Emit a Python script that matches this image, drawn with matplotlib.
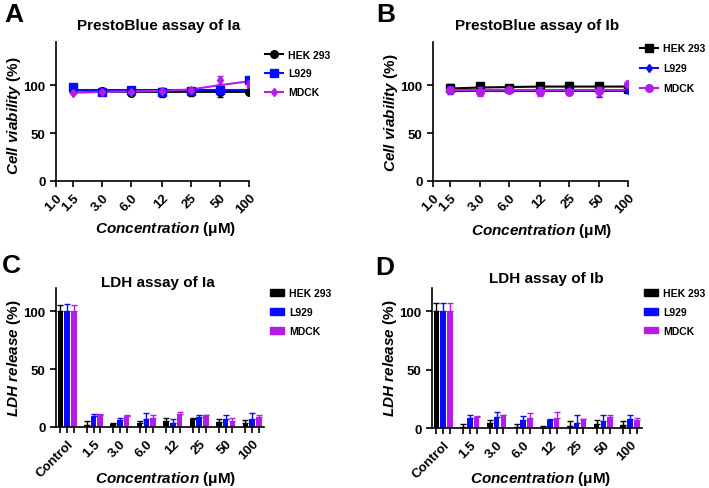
import matplotlib
matplotlib.use('Agg')
import matplotlib.pyplot as plt
from matplotlib.lines import Line2D
from matplotlib.patches import Patch
from matplotlib.ticker import NullLocator
import numpy as np

plt.rcParams['font.family'] = 'Liberation Sans'
plt.rcParams['font.weight'] = 'bold'
plt.rcParams['mathtext.fontset'] = 'custom'
plt.rcParams['mathtext.it'] = 'Liberation Sans:italic:bold'
plt.rcParams['mathtext.bf'] = 'Liberation Sans:bold'
plt.rcParams['mathtext.rm'] = 'Liberation Sans:bold'

# datos
cells = ['HEK 293', 'L929', 'MDCK']
conc = [1.5, 3.0, 6.0, 12.5, 25, 50, 100]
conc_ticks = [1.0, 1.5, 3.0, 6.0, 12.5, 25, 50, 100]
conc_labels = ['1.0', '1.5', '3.0', '6.0', '12', '25', '50', '100']
groups = ['Control', '1.5', '3.0', '6.0', '12', '25', '50', '100']

# PrestoBlue Ia
hek_a = [94.8, 93.4, 92.0, 92.4, 93.0, 92.4, 93.0]
hek_a_err = [1, 1, 2, 5, 4, 5, 1]
hek_a_fit = [94.8, 93.4, 93.0, 93.0, 93.0, 93.0, 93.0]
l929_a = [98.0, 93.0, 95.0, 93.0, 94.0, 95.0, 105.0]
l929_a_err = [2, 1, 1, 1, 2, 1, 2]
l929_a_fit = [95.0, 95.0, 95.0, 95.0, 95.0, 95.0, 95.0]
mdck_a = [92.0, 93.0, 93.0, 94.0, 95.0, 105.5, 101.0]
mdck_a_err = [1, 1, 1, 1, 2, 4, 3]
mdck_a_fit = [92.0, 93.0, 93.5, 94.0, 95.5, 100.0, 104.0]

# PrestoBlue Ib
hek_b = [96.5, 99.0, 97.5, 98.6, 99.3, 99.6, 96.0]
hek_b_err = [5, 3, 2, 3, 4, 2, 3]
hek_b_fit = [96.5, 97.5, 98.0, 98.5, 98.5, 98.5, 98.5]
l929_b = [95.0, 94.5, 95.5, 94.5, 94.5, 93.0, 94.5]
l929_b_err = [4, 1, 1, 1, 1, 5, 2]
l929_b_fit = [94.3, 94.3, 94.3, 94.3, 94.3, 94.3, 94.3]
mdck_b = [95.4, 93.3, 94.5, 93.3, 92.6, 93.5, 101.0]
mdck_b_err = [2, 5, 2, 5, 2, 5, 3]
mdck_b_fit = [94.7, 94.7, 94.7, 94.7, 94.7, 94.7, 94.7]

# LDH Ia
hek_c = [100, 1.7, 3.0, 3.5, 5.0, 7.0, 4.6, 3.5]
hek_c_err = [5, 3.5, 0.8, 2, 3, 1.2, 2, 2.5]
l929_c = [100, 9.3, 6.4, 7.0, 3.5, 9.0, 7.2, 7.2]
l929_c_err = [6, 2, 1.5, 5, 3.5, 1.2, 3.5, 5]
mdck_c = [100, 10.5, 9.6, 7.8, 11.3, 10.0, 5.2, 9.0]
mdck_c_err = [5, 0.8, 0.7, 2.2, 1.8, 0.5, 2.3, 1.5]

# LDH Ib
hek_d = [100, 1.0, 4.0, 1.0, 0.0, 1.5, 3.7, 2.9]
hek_d_err = [7, 2.4, 3, 2.5, 1.5, 4.8, 3.3, 2.8]
l929_d = [100, 9.0, 9.2, 7.0, 7.0, 4.3, 5.7, 7.5]
l929_d_err = [7, 2, 4.8, 3, 1, 6.7, 5.3, 4]
mdck_d = [100, 9.8, 11.2, 9.0, 8.3, 7.5, 9.2, 7.0]
mdck_d_err = [7, 0.6, 0.3, 4, 5.7, 0.5, 1.8, 2]

BLUE = '#0a0aff'
PURPLE = '#b21ee8'
BLACK = 'black'
W, H = 709, 489

CONC_LABEL = r'$\mathit{Concentration}$ $\mathbf{(μM)}$'


def style_axes(ax):
    for s in ['top', 'right']:
        ax.spines[s].set_visible(False)
    for s in ['left', 'bottom']:
        ax.spines[s].set_linewidth(1.2)
    ax.tick_params(which='both', direction='out', length=4, width=1.2, labelsize=9.5)
    ax.set_yticks([0, 50, 100])


def line_panel(ax, pts, errs, fits, colors, markers, sizes, order):
    for i in order:
        ax.plot(conc, fits[i], color=colors[i], lw=1.5, zorder=2 + i)
        ax.errorbar(conc, pts[i], yerr=errs[i], fmt=markers[i], color=colors[i],
                    ms=sizes[i], elinewidth=1, capsize=2, zorder=3 + i)
    ax.set_xscale('log')
    ax.set_xlim(1, 100)
    ax.set_ylim(0, 145)
    ax.xaxis.set_minor_locator(NullLocator())
    ax.set_xticks(conc_ticks)
    ax.set_xticklabels(conc_labels, rotation=45, ha='right', rotation_mode='anchor')
    style_axes(ax)
    ax.set_ylabel(r'$\mathit{Cell\ viability}$ $\mathbf{(\%)}$', fontsize=11)
    ax.set_xlabel(CONC_LABEL, fontsize=11, va='baseline')
    handles = [Line2D([], [], color=colors[i], marker=markers[i], ms=sizes[i], lw=1.5)
               for i in range(3)]
    return handles


def bar_panel(ax, pts, errs):
    x = np.arange(len(groups))
    off = 0.253
    colors = [BLACK, BLUE, PURPLE]
    for i, (v, e) in enumerate(zip(pts, errs)):
        pos = x + (i - 1) * off
        ax.bar(pos, v, width=0.21, color=colors[i], zorder=2)
        ax.errorbar(pos, v, yerr=[np.zeros(len(v)), e], fmt='none',
                    ecolor=colors[i], elinewidth=1, capsize=2, zorder=1)
    ax.set_xlim(-0.42, 7.45)
    ax.set_ylim(0, 120)
    ax.set_xticks(x)
    ax.set_xticks(np.concatenate([x - off, x + off]), minor=True)
    ax.set_xticklabels(groups, rotation=45, ha='right', rotation_mode='anchor')
    style_axes(ax)
    ax.set_ylabel(r'$\mathit{LDH\ release}$ $\mathbf{(\%)}$', fontsize=11)
    ax.set_xlabel(CONC_LABEL, fontsize=11, va='baseline')
    return [Patch(color=c) for c in colors]


fig = plt.figure(figsize=(W / 100, H / 100), dpi=100)


def add_axes(left, right, bottom, top):
    return fig.add_axes([left / W, 1 - bottom / H, (right - left) / W, (bottom - top) / H])


axA = add_axes(56, 249, 182, 43)
axB = add_axes(433, 628, 182, 43)
axC = add_axes(56, 264, 428, 289)
axD = add_axes(432, 642, 429, 289)

hA = line_panel(axA, [hek_a, l929_a, mdck_a], [hek_a_err, l929_a_err, mdck_a_err],
                [hek_a_fit, l929_a_fit, mdck_a_fit], [BLACK, BLUE, PURPLE], ['o', 's', 'd'],
                [5.5, 5.5, 4.5], [1, 2, 0])
hB = line_panel(axB, [hek_b, l929_b, mdck_b], [hek_b_err, l929_b_err, mdck_b_err],
                [hek_b_fit, l929_b_fit, mdck_b_fit], [BLACK, BLUE, PURPLE], ['s', 'd', 'o'],
                [5.5, 4.5, 5.5], [1, 2, 0])
hC = bar_panel(axC, [hek_c, l929_c, mdck_c], [hek_c_err, l929_c_err, mdck_c_err])
hD = bar_panel(axD, [hek_d, l929_d, mdck_d], [hek_d_err, l929_d_err, mdck_d_err])

# titulos, etiquetas y leyendas
titles = ['PrestoBlue assay of Ia', 'PrestoBlue assay of Ib', 'LDH assay of Ia', 'LDH assay of Ib']
title_pos = [(0.534, 1.094), (0.535, 1.094), (0.49, 1.014), (0.543, 1.043)]
ylab_pos = [(-0.171, 0.475), (-0.169, 0.50), (-0.159, 0.504), (-0.157, 0.507)]
xlab_pos = [(0.57, -0.367), (0.555, -0.381), (0.529, -0.396), (0.517, -0.386)]
leg_pos = [(1.083, 0.946), (1.062, 0.991), (1.029, 0.998), (1.01, 0.999)]
leg_space = [0.85, 0.95, 0.85, 0.85]
handles = [hA, hB, hC, hD]
for k, ax in enumerate([axA, axB, axC, axD]):
    ax.text(*title_pos[k], titles[k], transform=ax.transAxes, ha='center', va='baseline',
            fontsize=11, fontweight='bold')
    ax.yaxis.set_label_coords(*ylab_pos[k])
    ax.xaxis.set_label_coords(*xlab_pos[k])
    ax.legend(handles[k], cells, loc='upper left', bbox_to_anchor=leg_pos[k], frameon=False,
              fontsize=7.5, borderaxespad=0, borderpad=0,
              handlelength=1.7 if k < 2 else 1.3, handleheight=0.6,
              handletextpad=0.5, labelspacing=leg_space[k])

for letter, x, y in [('A', 4, 22), ('B', 376, 22), ('C', 2, 273), ('D', 375, 275)]:
    fig.text(x / W, 1 - y / H, letter, fontsize=19, fontweight='bold', va='baseline')

plt.savefig('out.png', dpi=100)
plt.close()
